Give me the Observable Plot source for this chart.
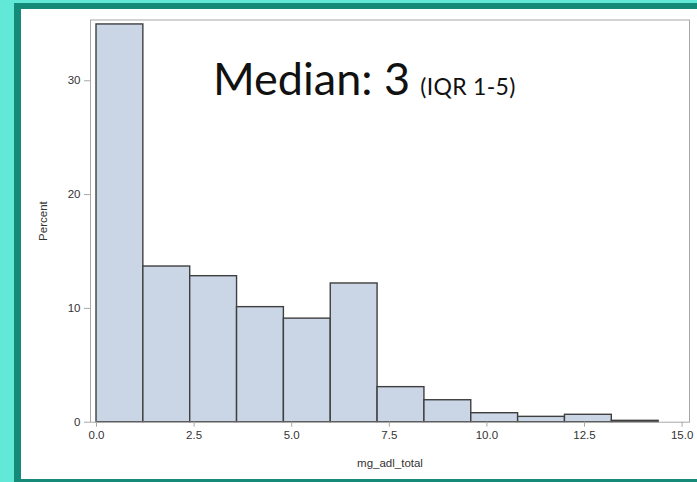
<!DOCTYPE html>
<html>
<head>
<meta charset="utf-8">
<script src="https://cdn.jsdelivr.net/npm/d3@7"></script>
<script src="https://cdn.jsdelivr.net/npm/@observablehq/plot@0.6"></script>
<style>
  html, body { margin: 0; padding: 0; }
  #page { position: relative; width: 697px; height: 482px; background: #62E8D6; overflow: hidden; }
  #band { position: absolute; left: 14px; top: 3px; width: 683px; height: 479px; background: #168A79; }
  #white { position: absolute; left: 21px; top: 9px; width: 676px; height: 470px; background: #ffffff; }
  #chart { position: absolute; left: 21px; top: 9px; }
  #note { position: absolute; left: 213px; top: 51px; font-family: Lato, "Open Sans", sans-serif; color: #111; white-space: nowrap; }
  #note .big { font-size: 45px; }
  #note .small { font-size: 23px; margin-left: 6px; letter-spacing: 0.3px; }
</style>
</head>
<body>
<div id="page">
  <div id="band"></div>
  <div id="white"></div>
  <div id="chart"></div>
  <div id="note"><span class="big">Median: 3</span> <span class="small">(IQR 1-5)</span></div>
</div>
<script>
// Histogram of mg_adl_total (percent per bin)
const binEdges = [0, 1.2, 2.4, 3.6, 4.8, 6.0, 7.2, 8.4, 9.6, 10.8, 12.0, 13.2, 14.4];
const percent = [34.95, 13.68, 12.83, 10.11, 9.1, 12.19, 3.08, 1.93, 0.79, 0.47, 0.65, 0.12];
const xTicks = [0, 2.5, 5, 7.5, 10, 12.5, 15];
const yTicks = [0, 10, 20, 30];

const bins = percent.map((p, i) => ({x1: binEdges[i], x2: binEdges[i + 1], pct: p}));

const chart = Plot.plot({
  width: 676,
  height: 470,
  marginLeft: 69,
  marginRight: 8,
  marginTop: 10.5,
  marginBottom: 57.3,
  style: {background: "transparent", fontFamily: "'Liberation Sans', Arial, sans-serif", fontSize: "11.5px", color: "#333"},
  x: {domain: [-0.154, 15.19]},
  y: {domain: [0, 35.34]},
  marks: [
    Plot.rectY(bins, {x1: "x1", x2: "x2", y: "pct", fill: "#CAD5E5", stroke: "#3F3F3F", strokeWidth: 1.4}),
    Plot.frame({stroke: "#A8A8A8", strokeWidth: 1}),
    Plot.axisX({ticks: xTicks, tickFormat: d => d.toFixed(1), tickSize: 5, tickPadding: 4, stroke: "#A8A8A8", fill: "#333",
      label: "mg_adl_total", labelAnchor: "center", labelOffset: 45, labelArrow: "none"}),
    Plot.axisY({ticks: yTicks, tickSize: 6, tickPadding: 4, stroke: "#A8A8A8", fill: "#333",
      label: "Percent", labelAnchor: "center", labelOffset: 52, labelArrow: "none"})
  ]
});
document.getElementById("chart").appendChild(chart);
</script>
</body>
</html>
